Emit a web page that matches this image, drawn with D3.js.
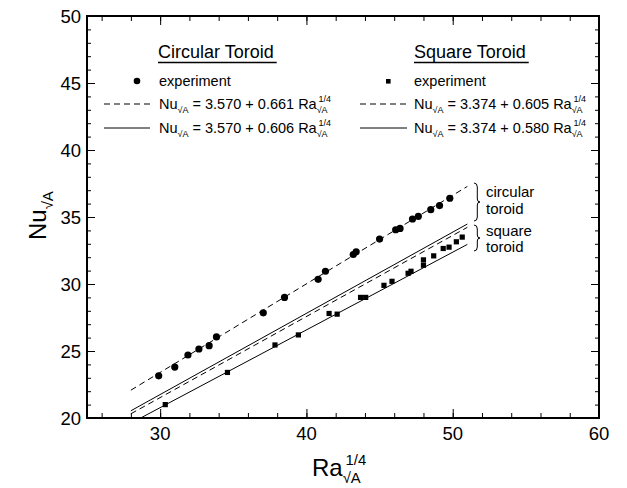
<!DOCTYPE html>
<html>
<head>
<meta charset="utf-8">
<script src="https://cdn.jsdelivr.net/npm/d3@7"></script>
<style>
  body { margin: 0; background: #fff; }
  svg text { font-family: "Liberation Sans", Arial, sans-serif; fill: #000; white-space: pre; }
</style>
</head>
<body>
<svg id="chart" width="627" height="488"></svg>
<script>
// circular toroid measurements (Ra^1/4, Nu)
var circRa = [29.9, 31.0, 31.9, 32.65, 33.35, 33.85, 37.05, 38.5, 40.8, 41.3, 43.2, 43.4, 45.0, 46.1, 46.4, 47.25, 47.65, 48.5, 49.1, 49.8];
var circNu = [23.15, 23.8, 24.7, 25.15, 25.4, 26.05, 27.85, 29.0, 30.35, 30.95, 32.2, 32.4, 33.35, 34.05, 34.15, 34.85, 35.05, 35.55, 35.85, 36.4];

// square toroid measurements
var sqRa = [30.35, 34.6, 37.85, 39.45, 41.55, 42.1, 43.7, 44.05, 45.3, 45.85, 46.95, 47.15, 48.0, 48.0, 48.7, 49.35, 49.75, 50.25, 50.65];
var sqNu = [21.0, 23.4, 25.45, 26.2, 27.8, 27.75, 29.0, 29.0, 29.9, 30.2, 30.8, 30.95, 31.4, 31.8, 32.1, 32.65, 32.75, 33.15, 33.5];

// correlations Nu = a + b Ra^1/4
var fitNames = ["circDashed", "circSolid", "sqDashed", "sqSolid"];
var fitA = [3.570, 3.570, 3.374, 3.374];
var fitB = [0.661, 0.606, 0.605, 0.580];
var fitRange = [28, 51];

var xTickLabels = [30, 40, 50, 60];
var yTickLabels = [20, 25, 30, 35, 40, 45, 50];

var svg = d3.select("#chart");

var dims = { left: 87, right: 599, top: 16, bottom: 418 };

var xScale = d3.scaleLinear().domain([25, 60]).range([dims.left, dims.right]);
var yScale = d3.scaleLinear().domain([20, 50]).range([dims.bottom, dims.top]);

svg.append("clipPath").attr("id", "clip")
   .append("rect")
   .attr("x", dims.left).attr("y", dims.top)
   .attr("width", dims.right - dims.left).attr("height", dims.bottom - dims.top);

// ticks, all pointing inward
function tickAxis(gen, transform, values, size) {
    var g = svg.append("g")
               .attr("transform", transform)
               .call(gen.tickValues(values).tickSize(size).tickFormat(""));
    g.select(".domain").remove();
    g.selectAll("line").attr("stroke", "#000").attr("stroke-width", 1);
    return g;
}
var xMinor = d3.range(26, 60, 2);
var yMinor = d3.range(21, 50, 1);
tickAxis(d3.axisBottom(xScale), "translate(0," + dims.bottom + ")", xMinor, -5);
tickAxis(d3.axisTop(xScale), "translate(0," + dims.top + ")", xMinor, -5);
tickAxis(d3.axisBottom(xScale), "translate(0," + dims.bottom + ")", [30, 40, 50], -9);
tickAxis(d3.axisTop(xScale), "translate(0," + dims.top + ")", [30, 40, 50], -9);
tickAxis(d3.axisLeft(yScale), "translate(" + dims.left + ",0)", yMinor, -4);
tickAxis(d3.axisRight(yScale), "translate(" + dims.right + ",0)", yMinor, -4);
tickAxis(d3.axisLeft(yScale), "translate(" + dims.left + ",0)", [25, 30, 35, 40, 45], -8);
tickAxis(d3.axisRight(yScale), "translate(" + dims.right + ",0)", [25, 30, 35, 40, 45], -8);

// tick labels
svg.append("g").selectAll("text")
   .data(xTickLabels).enter().append("text")
   .attr("x", function(d){ return xScale(d) })
   .attr("y", dims.bottom + 22)
   .attr("text-anchor", "middle")
   .style("font-size", "18.5px")
   .text(function(d){ return d });

svg.append("g").selectAll("text")
   .data(yTickLabels).enter().append("text")
   .attr("x", dims.left - 6)
   .attr("y", function(d){ return yScale(d) + 6.5 })
   .attr("text-anchor", "end")
   .style("font-size", "18.5px")
   .text(function(d){ return d });

// frame
svg.append("rect")
   .attr("x", dims.left).attr("y", dims.top)
   .attr("width", dims.right - dims.left).attr("height", dims.bottom - dims.top)
   .attr("fill", "none").attr("stroke", "#000").attr("stroke-width", 2);

// correlation lines
var dashStyle = { circDashed: "6,4", circSolid: null, sqDashed: "6,4", sqSolid: null };
var lineGen = d3.line()
                .x(function(d){ return xScale(d[0]) })
                .y(function(d){ return yScale(d[1]) });
var plot = svg.append("g").attr("clip-path", "url(#clip)");
fitNames.forEach(function(name, i){
    var pts = fitRange.map(function(r){ return [r, fitA[i] + fitB[i] * r] });
    plot.append("path")
        .attr("d", lineGen(pts))
        .attr("fill", "none")
        .attr("stroke", "#000")
        .attr("stroke-width", 1)
        .attr("stroke-dasharray", dashStyle[name]);
});

// data points
plot.append("g").selectAll("circle")
    .data(circRa).enter().append("circle")
    .attr("cx", function(d){ return xScale(d) })
    .attr("cy", function(d, i){ return yScale(circNu[i]) })
    .attr("r", 3.6)
    .attr("fill", "#000");

plot.append("g").selectAll("rect")
    .data(sqRa).enter().append("rect")
    .attr("x", function(d){ return xScale(d) - 2.6 })
    .attr("y", function(d, i){ return yScale(sqNu[i]) - 2.6 })
    .attr("width", 5.2).attr("height", 5.2)
    .attr("fill", "#000");

// text with subscript and stacked superscript pieces
function mathText(g, x, y, size, parts) {
    var cx = x;
    var small = size * 0.62;
    parts.forEach(function(p){
        var t = g.append("text")
                 .attr("x", cx)
                 .attr("y", p.sub ? y + size * 0.3 : y)
                 .style("font-size", (p.sub ? small : size) + "px")
                 .text(p.t);
        var w = t.node().getComputedTextLength();
        if (p.sup) {
            var s = g.append("text")
                     .attr("x", cx + size * 0.12)
                     .attr("y", y - size * 0.45)
                     .style("font-size", small + "px")
                     .text(p.sup);
            w = Math.max(w, s.node().getComputedTextLength() + size * 0.12);
        }
        cx += w;
    });
    return cx;
}

// axis titles
mathText(svg, 312, 476, 24, [{ t: "Ra" }, { t: "√A", sub: true, sup: "1/4" }]);
var yTitle = svg.append("g").attr("transform", "translate(46,240) rotate(-90)");
mathText(yTitle, 0, 0, 24, [{ t: "Nu" }, { t: "√A", sub: true }]);

// legend
var legend = svg.append("g");
var headings = [["Circular Toroid", 158], ["Square Toroid", 414]];
headings.forEach(function(h){
    var t = legend.append("text")
                  .attr("x", h[1]).attr("y", 58)
                  .style("font-size", "18px")
                  .text(h[0]);
    var w = t.node().getComputedTextLength();
    legend.append("line")
          .attr("x1", h[1]).attr("x2", h[1] + w + 3)
          .attr("y1", 62.5).attr("y2", 62.5)
          .attr("stroke", "#000").attr("stroke-width", 1.5);
});

legend.append("circle").attr("cx", 137).attr("cy", 81).attr("r", 3.3).attr("fill", "#000");
legend.append("rect").attr("x", 386).attr("y", 79).attr("width", 4.6).attr("height", 4.6).attr("fill", "#000");

var legendCols = [
    { lineX: [104, 150], textX: 159, fits: [0, 1] },
    { lineX: [360, 407], textX: 414, fits: [2, 3] }
];
var legendRows = [104, 128];
legendCols.forEach(function(c){
    legend.append("text")
          .attr("x", c.textX).attr("y", 86)
          .style("font-size", "14.5px")
          .text("experiment");
    c.fits.forEach(function(fi, k){
        var ly = legendRows[k];
        legend.append("line")
              .attr("x1", c.lineX[0]).attr("x2", c.lineX[1])
              .attr("y1", ly).attr("y2", ly)
              .attr("stroke", "#000").attr("stroke-width", 1)
              .attr("stroke-dasharray", dashStyle[fitNames[fi]]);
        mathText(legend, c.textX, ly + 5, 14.5, [
            { t: "Nu" }, { t: "√A", sub: true },
            { t: " = " + fitA[fi].toFixed(3) + " + " + fitB[fi].toFixed(3) + " Ra" },
            { t: "√A", sub: true, sup: "1/4" }
        ]);
    });
});

// braces and labels
function bracePath(x, y0, y1, w) {
    var ym = (y0 + y1) / 2, m = x + w * 0.55;
    return "M" + x + "," + y0 + " Q" + m + "," + y0 + " " + m + "," + (y0 + 4) +
           " L" + m + "," + (ym - 3) + " Q" + m + "," + ym + " " + (x + w) + "," + ym +
           " Q" + m + "," + ym + " " + m + "," + (ym + 3) +
           " L" + m + "," + (y1 - 4) + " Q" + m + "," + y1 + " " + x + "," + y1;
}
var braces = [[183, 221, ["circular", "toroid"], [197, 214]], [225, 251, ["square", "toroid"], [236, 252]]];
braces.forEach(function(b){
    svg.append("path")
       .attr("d", bracePath(474, b[0], b[1], 6))
       .attr("fill", "none").attr("stroke", "#000").attr("stroke-width", 1);
    b[2].forEach(function(s, k){
        svg.append("text")
           .attr("x", 486).attr("y", b[3][k])
           .style("font-size", "15px")
           .text(s);
    });
});
</script>
</body>
</html>
